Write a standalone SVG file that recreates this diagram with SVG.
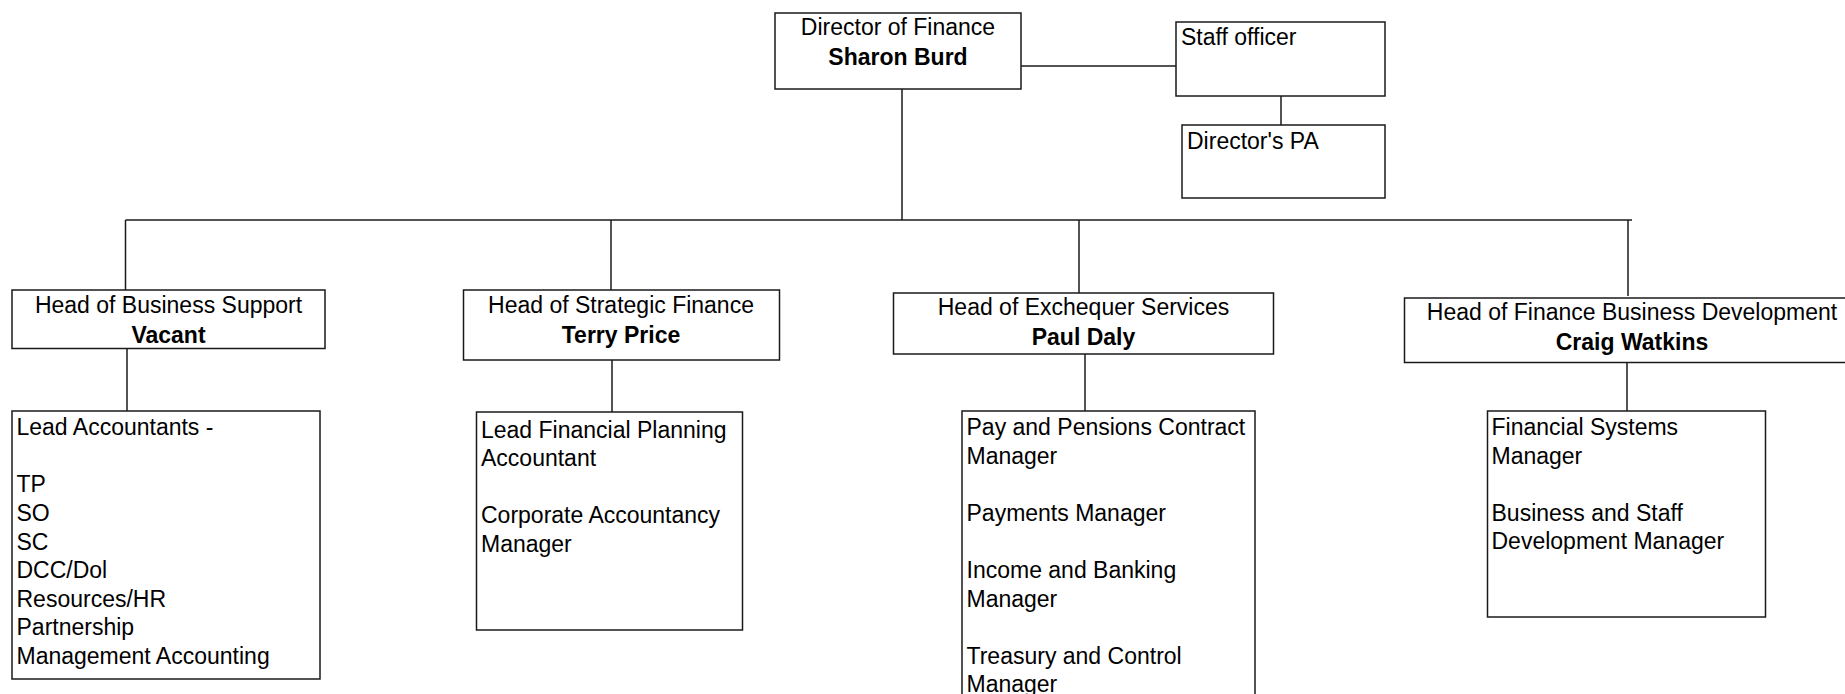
<svg xmlns="http://www.w3.org/2000/svg" width="1845" height="694" viewBox="0 0 1845 694">
<style>
.box{fill:#fff;stroke:#1a1a1a;stroke-width:1.5}
.ln{fill:none;stroke:#1a1a1a;stroke-width:1.5}
text{font-family:"Liberation Sans",Arial,sans-serif;font-size:23px;fill:#000}
.c{text-anchor:middle}
.b{font-weight:bold}
</style>
<rect width="1845" height="694" fill="#fff"/>
<g id="connectors">
<line class="ln" x1="902" y1="89" x2="902" y2="220"/>
<line class="ln" x1="1021" y1="66" x2="1176" y2="66"/>
<line class="ln" x1="1281" y1="96" x2="1281" y2="125"/>
<line class="ln" x1="125.5" y1="220" x2="1632" y2="220"/>
<line class="ln" x1="125.5" y1="220" x2="125.5" y2="290"/>
<line class="ln" x1="611" y1="220" x2="611" y2="290"/>
<line class="ln" x1="1079" y1="220" x2="1079" y2="293"/>
<line class="ln" x1="1628" y1="220" x2="1628" y2="296"/>
<line class="ln" x1="127" y1="349" x2="127" y2="411"/>
<line class="ln" x1="612" y1="360" x2="612" y2="412"/>
<line class="ln" x1="1085" y1="354" x2="1085" y2="411"/>
<line class="ln" x1="1627" y1="362" x2="1627" y2="411"/>
</g>
<g id="director">
<rect class="box" x="775" y="13" width="246" height="76"/>
<text class="c" x="898" y="35">Director of Finance</text>
<text class="c b" x="898" y="65">Sharon Burd</text>
</g>
<g id="staff-officer">
<rect class="box" x="1176" y="22" width="209" height="74"/>
<text x="1181" y="44.5">Staff officer</text>
</g>
<g id="directors-pa">
<rect class="box" x="1182" y="125" width="203" height="73"/>
<text x="1187" y="149">Director's PA</text>
</g>
<g id="head-business-support">
<rect class="box" x="12" y="290" width="313" height="58.5"/>
<text class="c" x="168.5" y="313">Head of Business Support</text>
<text class="c b" x="168.5" y="343">Vacant</text>
</g>
<g id="head-strategic-finance">
<rect class="box" x="463.5" y="290" width="316" height="70"/>
<text class="c" x="621" y="313">Head of Strategic Finance</text>
<text class="c b" x="621" y="343">Terry Price</text>
</g>
<g id="head-exchequer">
<rect class="box" x="893.5" y="293" width="380" height="61"/>
<text class="c" x="1083.5" y="315">Head of Exchequer Services</text>
<text class="c b" x="1083.5" y="345">Paul Daly</text>
</g>
<g id="head-finance-business-development">
<rect class="box" x="1404.5" y="298" width="460" height="64.5"/>
<text class="c" x="1632" y="320">Head of Finance Business Development</text>
<text class="c b" x="1632" y="350">Craig Watkins</text>
</g>
<g id="lead-accountants">
<rect class="box" x="12" y="411" width="308" height="268"/>
<text x="16.5" y="435">Lead Accountants -</text>
<text x="16.5" y="492.3">TP</text>
<text x="16.5" y="521">SO</text>
<text x="16.5" y="549.6">SC</text>
<text x="16.5" y="578.2">DCC/Dol</text>
<text x="16.5" y="606.8">Resources/HR</text>
<text x="16.5" y="635.4">Partnership</text>
<text x="16.5" y="664">Management Accounting</text>
</g>
<g id="strategic-team">
<rect class="box" x="476.5" y="412" width="266" height="218"/>
<text x="481" y="437.5">Lead Financial Planning</text>
<text x="481" y="465.5">Accountant</text>
<text x="481" y="523">Corporate Accountancy</text>
<text x="481" y="551.5">Manager</text>
</g>
<g id="exchequer-team">
<rect class="box" x="962" y="411" width="293" height="300"/>
<text x="966.5" y="435">Pay and Pensions Contract</text>
<text x="966.5" y="463.6">Manager</text>
<text x="966.5" y="520.8">Payments Manager</text>
<text x="966.5" y="578">Income and Banking</text>
<text x="966.5" y="606.6">Manager</text>
<text x="966.5" y="663.8">Treasury and Control</text>
<text x="966.5" y="692.4">Manager</text>
</g>
<g id="development-team">
<rect class="box" x="1487.5" y="411" width="278" height="206"/>
<text x="1491.5" y="435">Financial Systems</text>
<text x="1491.5" y="463.6">Manager</text>
<text x="1491.5" y="520.8">Business and Staff</text>
<text x="1491.5" y="549.4">Development Manager</text>
</g>
</svg>
